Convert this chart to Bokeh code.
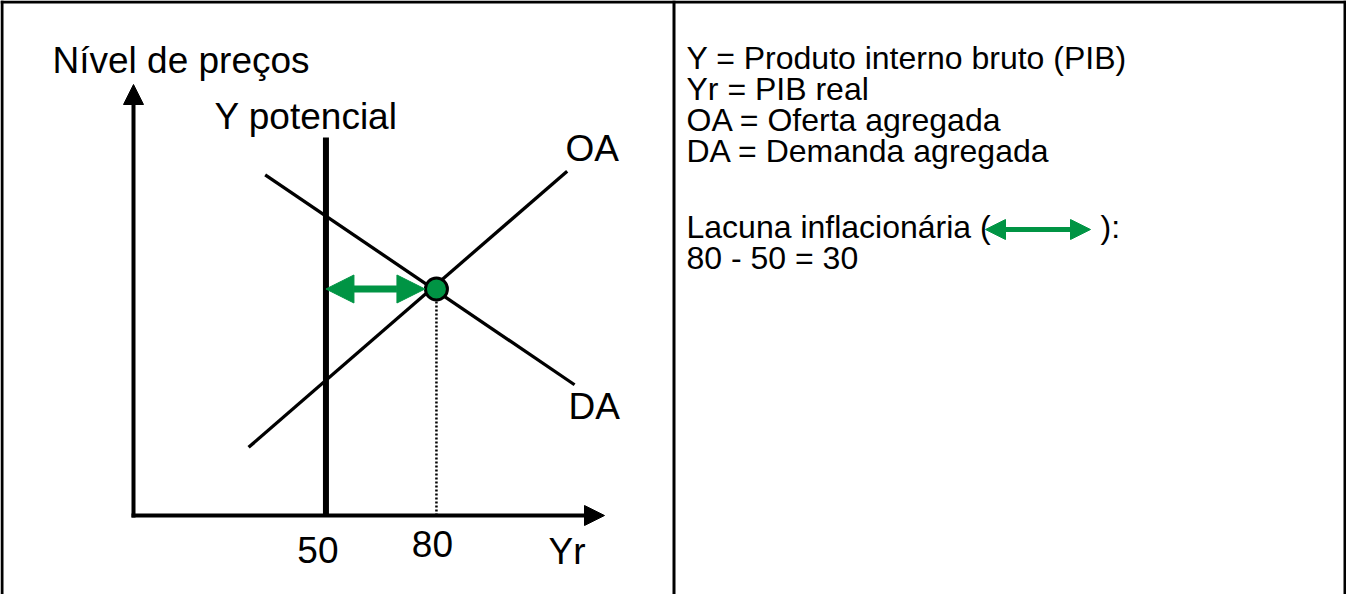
from bokeh.plotting import figure
from bokeh.models import Range1d, Arrow, NormalHead, Span, Label, ColumnDataSource
from bokeh.embed import file_html
from bokeh.resources import INLINE
from bokeh.core.properties import value

# ---------------- data ----------------
yr_potencial = 50
yr_real = 80
p_equilibrio = 61.5
oa_yr = [29.0, 115.5]
oa_p = [18.5, 93.5]
da_yr = [33.5, 117.5]
da_p = [92.5, 35.5]
tick_values = [50, 80]
tick_labels = ["50", "80"]
axis_y_label = "Nível de preços"
axis_x_label = "Yr"
potencial_label = "Y potencial"
oa_label = "OA"
da_label = "DA"
legend_lines = [
    "Y = Produto interno bruto (PIB)",
    "Yr = PIB real",
    "OA = Oferta agregada",
    "DA = Demanda agregada",
]
gap_label = "Lacuna inflacionária ("
gap_close = "):"
gap_calc = "80 - 50 = 30"

# ---------------- layout helpers ----------------
W, H = 1346, 594
PX = 3.683           # pixels per data unit
OX, OY = 149.3, 523  # page pixel of (Yr=0, P=0)
FONT = "Liberation Sans"
GREEN = "#009444"
TSHIFT = 14          # text baseline correction


def dx(ix):
    return (ix - OX) / PX


def dy(iy):
    return (OY - iy) / PX


p = figure(width=W, height=H, output_backend="svg", toolbar_location=None,
           x_range=Range1d(dx(8), dx(8 + W)), y_range=Range1d(dy(8 + H), dy(8)),
           x_axis_location=None, y_axis_location=None, min_border=0,
           outline_line_color=None, background_fill_color="white",
           border_fill_color="white")
p.grid.visible = False

# frame
for loc in (dx(9.5), dx(681.5), dx(1352.5)):
    p.add_layout(Span(location=loc, dimension="height", line_color="black", line_width=3))
p.add_layout(Span(location=dy(9.5), dimension="width", line_color="black", line_width=3))

# axes with arrows
ax_x = dx(141)
p.add_layout(Arrow(end=NormalHead(size=20, fill_color="black", line_color="black"),
                   x_start=ax_x, y_start=dy(525), x_end=ax_x, y_end=dy(92),
                   line_width=4, line_color="black"))
p.add_layout(Arrow(end=NormalHead(size=20, fill_color="black", line_color="black"),
                   x_start=dx(139), y_start=0, x_end=dx(612), y_end=0,
                   line_width=4, line_color="black"))

# curves
p.line(oa_yr, oa_p, line_color="black", line_width=3.3)
p.line(da_yr, da_p, line_color="black", line_width=3.3)

# Y potencial
p.segment(x0=[yr_potencial], y0=[0], x1=[yr_potencial], y1=[dy(145)],
          line_color="black", line_width=6)

# dotted drop line
p.segment(x0=[yr_real], y0=[0], x1=[yr_real], y1=[p_equilibrio],
          line_color="black", line_width=2.5, line_dash="2 2")

# gap arrow
p.add_layout(Arrow(start=NormalHead(size=28, fill_color=GREEN, line_color=GREEN, line_width=1),
                   end=NormalHead(size=28, fill_color=GREEN, line_color=GREEN, line_width=1),
                   x_start=yr_potencial, y_start=p_equilibrio,
                   x_end=yr_real - 11.5 / PX, y_end=p_equilibrio,
                   line_color=GREEN, line_width=7))

# equilibrium point
p.scatter([yr_real], [p_equilibrio], size=22, fill_color=GREEN, line_color="black",
          line_width=3)

# tick labels
src = ColumnDataSource(dict(x=tick_values, t=tick_labels, off=[-8, -4],
                            yoff=[48 - TSHIFT, 42 - TSHIFT]))
p.text(x="x", y=0, text="t", x_offset="off", y_offset="yoff", source=src,
       text_font=value(FONT), text_font_size="37px", text_align="center",
       text_baseline="alphabetic", text_color="black")


def lab(txt, ix, iy, size="37px"):
    p.add_layout(Label(x=dx(ix), y=dy(iy - TSHIFT), text=txt, text_font=FONT,
                       text_font_size=size, text_color="black",
                       text_baseline="alphabetic", text_align="left"))


lab(axis_y_label, 60, 82)
lab(potencial_label, 222, 138)
lab(oa_label, 573, 170)
lab(da_label, 576, 428)
lab(axis_x_label, 556, 573)

# legend / notes
LS = "32px"
for i, line in enumerate(legend_lines):
    lab(line, 694, 79.5 + i * 31, LS)
gap_base = 248
lab(gap_label, 694, gap_base, LS)
lab(gap_close, 1108, gap_base, LS)
lab(gap_calc, 694, gap_base + 31, LS)
p.add_layout(Arrow(start=NormalHead(size=20, fill_color=GREEN, line_color=GREEN, line_width=1),
                   end=NormalHead(size=20, fill_color=GREEN, line_color=GREEN, line_width=1),
                   x_start=dx(993), y_start=dy(gap_base - 11),
                   x_end=dx(1098), y_end=dy(gap_base - 11),
                   line_color=GREEN, line_width=5))

open("out.html", "w").write(file_html(p, INLINE))
